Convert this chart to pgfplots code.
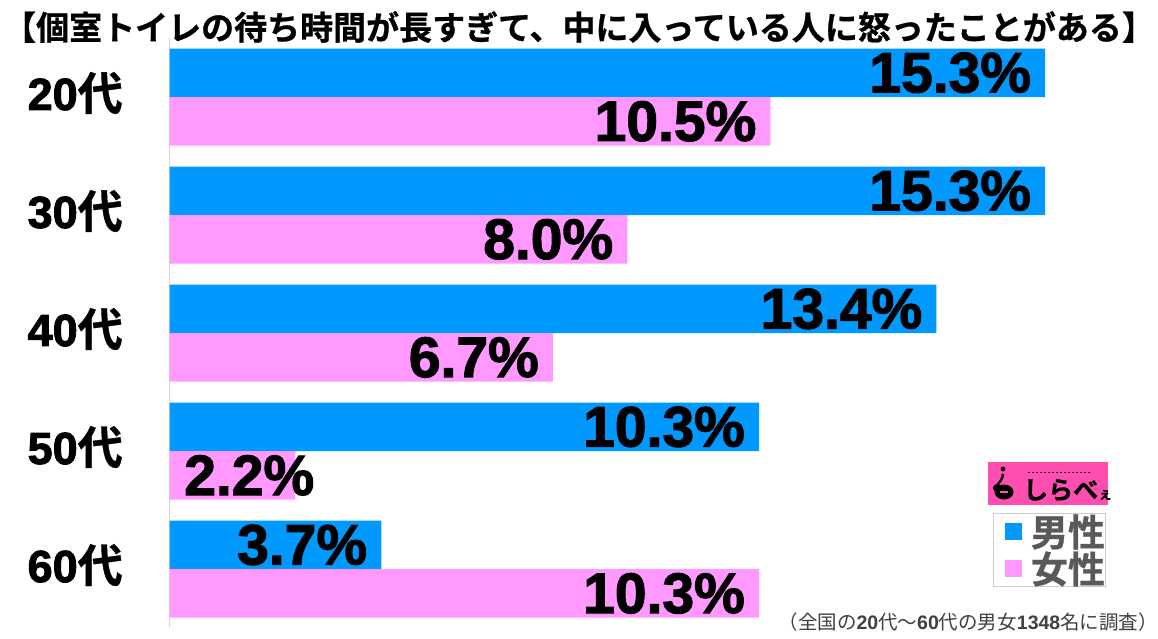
\documentclass[border=0pt]{standalone}
\usepackage{fontspec}
\usepackage{pgfplots}
\usepackage{pgfplotstable}
\pgfplotsset{compat=1.18}
\setmainfont{Liberation Sans}
\newfontfamily\ja{Noto Sans CJK JP}
\newfontfamily\jaheavy[FakeBold=0.8]{Noto Sans CJK JP Bold}
\definecolor{mblue}{HTML}{0099FF}
\definecolor{fpink}{HTML}{FF99FF}
\definecolor{lgray}{HTML}{595959}
\definecolor{logopink}{HTML}{FF4DB0}
\newfontfamily\heavy[FakeBold=2]{Liberation Sans Bold}
\newcommand{\fs}[1]{\fontsize{#1}{#1}\selectfont}
\pgfplotstableread{
pos male female
0 15.3 10.5
1 15.3 8.0
2 13.4 6.7
3 10.3 2.2
4 3.7 10.3
}\datatable
\begin{document}
\begin{tikzpicture}[x=1pt,y=1pt]
\useasboundingbox (0,0) rectangle (1158,638);
\fill[white] (0,0) rectangle (1158,638);
\begin{axis}[
  at={(169.5pt,11pt)}, anchor=south west,
  scale only axis, width=973pt, height=589pt,
  xmin=0, xmax=17, ymin=-0.5, ymax=4.49, y dir=reverse,
  xbar, bar width=48.5pt,
  axis x line=none,
  axis y line*=left,
  axis line style={draw=black!17,line width=1pt,-},
  ytick={0,1,2,3,4},
  yticklabels={20{\jaheavy 代},30{\jaheavy 代},40{\jaheavy 代},50{\jaheavy 代},60{\jaheavy 代}},
  tick style={draw=none},
  yticklabel style={font=\heavy\fs{45},text=black,anchor=east,xshift=-39pt,yshift=4pt},
  point meta=x,
  /pgf/number format/assume math mode=true,
  nodes near coords={\pgfmathprintnumber[fixed,fixed zerofill,precision=1]{\pgfplotspointmeta}\%},
  nodes near coords style={font=\heavy\fs{57},text=black,anchor=east,xshift=-14pt,inner sep=0pt},
  clip=false,
]
\addplot[draw=none,fill=mblue,bar shift=24.25pt] table[x=male,y=pos] {\datatable};
\addplot[draw=none,fill=fpink,bar shift=-24.25pt,
  coordinate style/.condition={x<3}{xshift=33pt}] table[x=female,y=pos] {\datatable};
\end{axis}
% title
\node[anchor=center,inner sep=0pt] at (579,611) {\jaheavy\fs{33}【個室トイレの待ち時間が長すぎて、中に入っている人に怒ったことがある】};
% logo
\fill[logopink] (988,133) rectangle (1108,176);
\fill[black] (1003,169) circle (2.4);
\draw[black,line width=2.4] (1003,164) .. controls (1002,156) and (998,156) .. (996,150);
\fill[black] (1004,146) ellipse (9.5 and 7.5);
\fill[black] (997,150) circle (4);
\fill[logopink] (1000,145) rectangle (1008,147);
\node[anchor=west,inner sep=0pt] at (1023,148) {\jaheavy\fs{25}しらべ\fs{14}ぇ};
\draw[black,line width=1pt,dash pattern=on 2pt off 2pt] (1028,166) -- (1092,166);
% legend
\draw[black!20,line width=1pt,fill=white] (993.5,51.5) rectangle (1105,125);
\fill[mblue] (1005,98) rectangle (1022,115);
\fill[fpink] (1005,61) rectangle (1022,78);
\node[anchor=center,inner sep=0pt,text=lgray] at (1068,106) {\jaheavy\fs{37}男性};
\node[anchor=center,inner sep=0pt,text=lgray] at (1068,69) {\jaheavy\fs{37}女性};
% note
\node[anchor=east,inner sep=0pt,text=black!75] at (1158,16) {\fs{19.5}{\ja（全国の}\textbf{20}{\ja 代～}\textbf{60}{\ja 代の男女}\textbf{1348}{\ja 名に調査）}};
\end{tikzpicture}
\end{document}
